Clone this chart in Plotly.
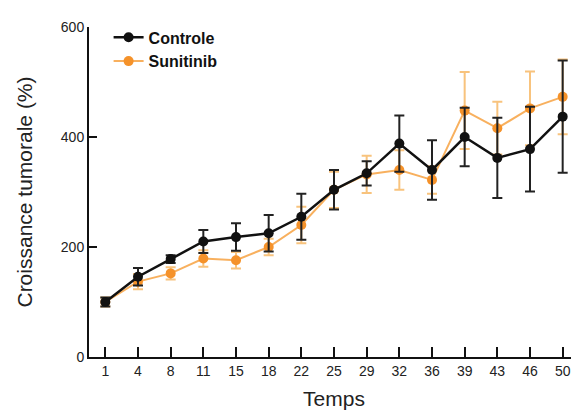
import plotly.graph_objects as go

days = ["1", "4", "8", "11", "15", "18", "22", "25", "29", "32", "36", "39", "43", "46", "50"]
controle = [100, 146, 178, 210, 218, 225, 255, 304, 334, 388, 340, 400, 362, 378, 437]
controle_err = [8, 16, 7, 21, 25, 33, 42, 36, 22, 51, 54, 53, 73, 77, 102]
sunitinib = [100, 137, 152, 179, 176, 200, 240, 304, 332, 340, 322, 448, 416, 452, 473]
sunitinib_err = [8, 14, 11, 15, 15, 15, 33, 33, 34, 36, 25, 70, 48, 67, 68]

fig = go.Figure()
fig.add_trace(go.Scatter(
    x=days, y=sunitinib, name="Sunitinib", mode="lines+markers",
    line=dict(color="rgba(245,150,40,0.75)", width=2),
    marker=dict(color="#F5922A", size=10, symbol="circle"),
    error_y=dict(type="data", array=sunitinib_err, color="rgba(245,170,70,0.7)", thickness=2, width=5),
))
fig.add_trace(go.Scatter(
    x=days, y=controle, name="Controle", mode="lines+markers",
    line=dict(color="#111111", width=2.5),
    marker=dict(color="#111111", size=10, symbol="circle"),
    error_y=dict(type="data", array=controle_err, color="#222222", thickness=2, width=5),
))

# page body has an 8px default margin; size the figure so it fits the 579x414 window
fig.update_layout(
    width=571, height=406,
    margin=dict(l=81, r=0, t=19, b=57),
    paper_bgcolor="white", plot_bgcolor="white",
    font=dict(family="Liberation Sans, Arial, sans-serif", color="#222"),
    showlegend=True,
    legend=dict(x=0.04, y=1.02, xanchor="left", yanchor="top", traceorder="reversed",
                font=dict(size=16, color="#111", weight="bold"), bgcolor="rgba(0,0,0,0)",
                itemwidth=30, tracegroupgap=0),
    xaxis=dict(type="category", range=[-0.5, 14.5], showline=True, linecolor="#111", linewidth=2,
               ticks="inside", ticklen=10, tickwidth=2, tickcolor="#111", automargin=False,
               showgrid=False, zeroline=False, tickfont=dict(size=14, color="#222"),
               title=dict(text="Temps", font=dict(size=21, color="#222"), standoff=14)),
    yaxis=dict(range=[0, 600], tickvals=[0, 200, 400, 600], showline=True, linecolor="#111", linewidth=2,
               ticks="inside", ticklen=8, tickwidth=2, tickcolor="#111", automargin=False,
               showgrid=False, zeroline=False, tickfont=dict(size=14, color="#222"),
               title=dict(text="Croissance tumorale (%)", font=dict(size=21, color="#222"), standoff=22)),
)

fig.write_html("out.html")
